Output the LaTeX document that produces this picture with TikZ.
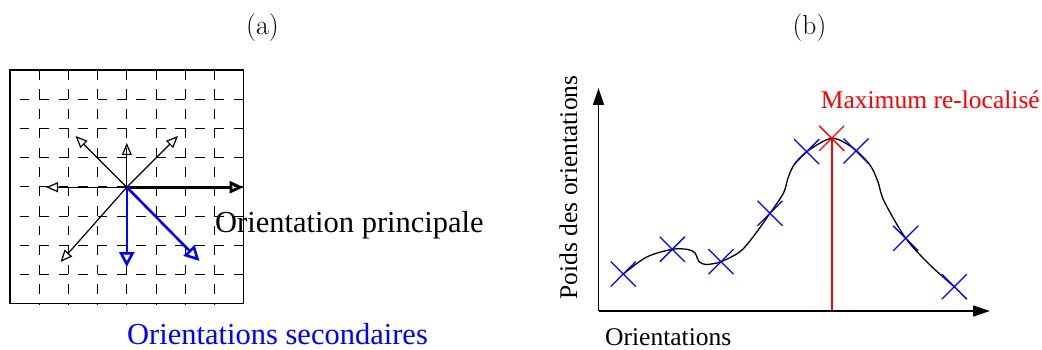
\documentclass[tikz,border=0pt]{standalone}
\usepackage{fontspec}
\newfontfamily\tms{Liberation Serif}
\usetikzlibrary{arrows.meta}
\tikzset{
  gridline/.style={line width=1pt, dash pattern=on 9.73pt off 9.73pt},
  thinarrow/.style={line width=1.2pt, -{Triangle[open,length=12pt,width=10pt]}},
  mainarrow/.style={line width=2.8pt, -{Triangle[open,length=14pt,width=12pt]}},
  bluearrow/.style={line width=2.6pt, blue, -{Triangle[open,length=15pt,width=15pt]}},
  axis/.style={line width=1.3pt, -{Triangle[length=17pt,width=11pt]}},
  crossline/.style={line width=1.3pt, blue},
  redline/.style={line width=1.6pt, color=red},
  lbl/.style={inner sep=0pt, anchor=base west},
}
\newcommand\mycross[3]{%
  \draw[crossline,#3] (#1-12.5,#2-12.5) -- (#1+12.5,#2+12.5);
  \draw[crossline,#3] (#1-12.5,#2+12.5) -- (#1+12.5,#2-12.5);}
\begin{document}
\begin{tikzpicture}[x=1pt,y=-1pt]
\useasboundingbox (0,0) rectangle (1042,350);
% titles
\node[inner sep=0pt, anchor=base] (ta) at (262.5,35) {\fontsize{28}{32}\selectfont (a)};
\node[inner sep=0pt, anchor=base] (tb) at (809.5,35) {\fontsize{27.5}{32}\selectfont (b)};
% grid panel
\foreach \k in {1,...,7} {
  \draw[gridline, dash phase=9.73pt] (10,{70+29.2*\k}) -- (243.6,{70+29.2*\k});
  \draw[gridline] ({10+29.2*\k},70) -- ({10+29.2*\k},303.6);
}
\draw[line width=1.3pt] (10,70) rectangle (243.6,303.6);
\coordinate (c) at (126.8,187.2);
\coordinate (tL) at (46,187.2);
\coordinate (tU) at (126.8,143);
\coordinate (tNW) at (75.5,136);
\coordinate (tNE) at (178,136);
\coordinate (tSW) at (60.5,262);
\coordinate (tR) at (243.6,187.2);
\coordinate (tD) at (126.8,267);
\coordinate (tSE) at (199.5,261);
\draw[thinarrow] (c) -- (tL);
\draw[thinarrow] (c) -- (tU);
\draw[thinarrow] (c) -- (tNW);
\draw[thinarrow] (c) -- (tNE);
\draw[thinarrow] (c) -- (tSW);
\draw[mainarrow] (c) -- (tR);
\draw[bluearrow] (c) -- (tD);
\draw[bluearrow] (c) -- (tSE);
\node[lbl] (op) at (215,232) {\tms\fontsize{30.5}{34}\selectfont Orientation principale};
\node[lbl, text=blue] (os) at (127,344) {\tms\fontsize{30.5}{34}\selectfont Orientations secondaires};
% histogram panel
\coordinate (o) at (598.5,311);
\coordinate (ytip) at (598.5,88);
\coordinate (xtip) at (990,311);
\coordinate (peakfoot) at (831.7,311);
\coordinate (peak) at (831.7,138.3);
\draw[redline] (peakfoot) -- (peak);
\draw[axis] (o) -- (ytip);
\draw[axis] (o) -- (xtip);
\node[inner sep=0pt, anchor=base, rotate=90] (yl) at (577,187.5) {\tms\fontsize{25.5}{30}\selectfont Poids des orientations};
\node[lbl] (xl) at (605,345.5) {\tms\fontsize{25.5}{30}\selectfont Orientations};
\node[lbl, text=red] (ml) at (820.7,108.3) {\tms\fontsize{25.5}{30}\selectfont Maximum re-localisé};
\draw[line width=1.3pt] plot[smooth, tension=0.5] coordinates {
 (623.3,274) (646.7,257) (672.3,249.3) (688,249.5) (695,253) (699,261.5)
 (706,264.5) (721,261.7) (740,251.7) (753,237) (770,213.3) (783.5,193)
 (788,178) (794,165) (806.7,151.7) (831.7,138.3) (853,148) (870,165)
 (878,182) (884,201) (905.7,238.3) (930,265) (954.3,286.7)};
\mycross{623.3}{274}{}
\mycross{672.3}{249.3}{}
\mycross{721}{261.7}{}
\mycross{770}{213.3}{}
\mycross{806.7}{151.7}{}
\mycross{856}{151}{}
\mycross{905.7}{238.3}{}
\mycross{954.3}{286.7}{}
\mycross{831.7}{138.3}{red}
\end{tikzpicture}
\end{document}
